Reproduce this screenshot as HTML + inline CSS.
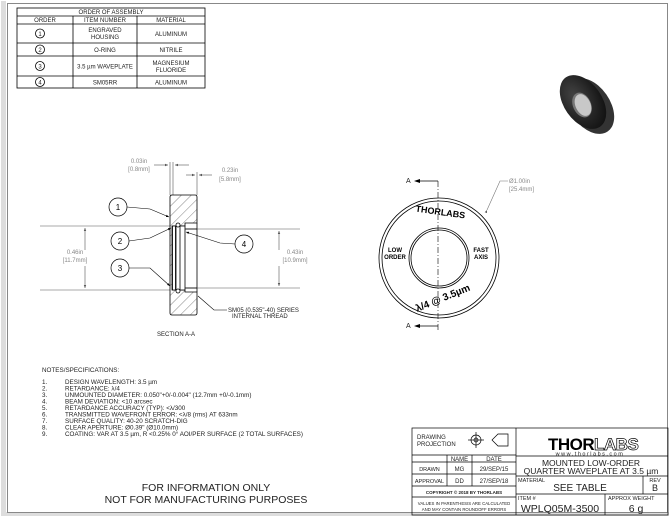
<!DOCTYPE html>
<html><head><meta charset="utf-8"><style>
html,body{margin:0;padding:0;background:#fff;}
svg{display:block;font-family:"Liberation Sans",sans-serif;}
</style></head><body>
<svg width="670" height="517" viewBox="0 0 670 517" xmlns="http://www.w3.org/2000/svg">
<defs>
<pattern id="h" width="7" height="7" patternUnits="userSpaceOnUse" patternTransform="rotate(45)">
<line x1="0" y1="0" x2="0" y2="7" stroke="#333" stroke-width="0.6"/>
</pattern>
<marker id="ar" markerWidth="6" markerHeight="6" refX="5" refY="3" orient="auto"><path d="M0,1 L5,3 L0,5z" fill="#555"/></marker>
<marker id="arb" markerWidth="6" markerHeight="6" refX="5" refY="3" orient="auto"><path d="M0,1 L5,3 L0,5z" fill="#000"/></marker>
<radialGradient id="rg" cx="0.4" cy="0.35" r="0.7"><stop offset="0" stop-color="#444"/><stop offset="1" stop-color="#111"/></radialGradient>
</defs>
<rect x="0" y="0" width="670" height="517" fill="#fff"/>
<rect x="1" y="1" width="5" height="514" fill="#ddd"/>
<rect x="1" y="512" width="668" height="4" fill="#ddd"/>
<rect x="7.5" y="3.5" width="660" height="509" fill="none" stroke="#888" stroke-width="1"/>

<!-- assembly table -->
<g stroke="#000" stroke-width="0.8" fill="none">
<rect x="17" y="8" width="188" height="80"/>
<line x1="17" y1="16" x2="205" y2="16"/><line x1="17" y1="24" x2="205" y2="24"/>
<line x1="17" y1="43" x2="205" y2="43"/><line x1="17" y1="56" x2="205" y2="56"/>
<line x1="17" y1="76" x2="205" y2="76"/>
<line x1="73" y1="16" x2="73" y2="88"/><line x1="137" y1="16" x2="137" y2="88"/>
<circle cx="40" cy="33.5" r="4.5"/><circle cx="40" cy="49.5" r="4.5"/><circle cx="40" cy="66" r="4.5"/><circle cx="40" cy="82" r="4.5"/>
</g>
<g font-size="6" text-anchor="middle" fill="#222">
<text x="111" y="14">ORDER OF ASSEMBLY</text>
<text x="45" y="22">ORDER</text><text x="105" y="22">ITEM NUMBER</text><text x="171" y="22">MATERIAL</text>
<text x="40" y="36" font-size="6">1</text><text x="40" y="52">2</text><text x="40" y="68.5">3</text><text x="40" y="84.5">4</text>
<text x="105" y="32">ENGRAVED</text><text x="105" y="39">HOUSING</text><text x="171" y="36">ALUMINUM</text>
<text x="105" y="52">O-RING</text><text x="171" y="52">NITRILE</text>
<text x="105" y="68.5">3.5 µm WAVEPLATE</text><text x="171" y="65">MAGNESIUM</text><text x="171" y="72">FLUORIDE</text>
<text x="105" y="84.5">SM05RR</text><text x="171" y="84.5">ALUMINUM</text>
</g>

<!-- 3D render -->
<g>
<ellipse cx="590" cy="106" rx="20" ry="31" fill="#333" transform="rotate(-35 590 106)"/>
<ellipse cx="583" cy="102" rx="19" ry="30" fill="url(#rg)" transform="rotate(-35 583 102)"/>
<ellipse cx="582" cy="105" rx="9" ry="13" fill="#777" transform="rotate(-25 582 105)"/>
<ellipse cx="583" cy="105" rx="7.5" ry="11.5" fill="#c8c8c8" transform="rotate(-25 583 105)"/>
</g>

<!-- section view -->
<g stroke="#555" stroke-width="0.6" fill="none">
<line x1="40" y1="226" x2="170" y2="226"/><line x1="40" y1="290" x2="170" y2="290"/>
<line x1="186" y1="229" x2="300" y2="229"/><line x1="186" y1="288" x2="300" y2="288"/>
<line x1="170" y1="195" x2="170" y2="162"/><line x1="173" y1="195" x2="173" y2="162"/>
<line x1="197" y1="195" x2="197" y2="172"/>
<line x1="154" y1="165" x2="168" y2="165" marker-end="url(#ar)"/><line x1="189" y1="165" x2="175" y2="165" marker-end="url(#ar)"/>
<line x1="186" y1="175" x2="195" y2="175" marker-end="url(#ar)"/><line x1="212" y1="175" x2="199" y2="175" marker-end="url(#ar)"/>
<line x1="85" y1="250" x2="85" y2="228" marker-end="url(#ar)"/><line x1="85" y1="266" x2="85" y2="288" marker-end="url(#ar)"/>
<line x1="279" y1="250" x2="279" y2="231" marker-end="url(#ar)"/><line x1="279" y1="266" x2="279" y2="286" marker-end="url(#ar)"/>
</g>
<g font-size="6" fill="#888" text-anchor="middle">
<text x="139" y="163">0.03in</text><text x="139" y="171">[0.8mm]</text>
<text x="230" y="172">0.23in</text><text x="230" y="181">[5.8mm]</text>
<text x="75" y="254">0.46in</text><text x="75" y="262">[11.7mm]</text>
<text x="295" y="254">0.43in</text><text x="295" y="262">[10.9mm]</text>
</g>
<g stroke="#000" stroke-width="0.8">
<path d="M172,195 L195,195 Q197,195 197,197 L197,223 L185,223 L185,226 L172,226 L172,290 L185,290 L185,292 L197,292 L197,313 Q197,315 195,315 L172,315 Q170,315 170,313 L170,197 Q170,195 172,195 Z" fill="url(#h)"/>
<rect x="172.5" y="226" width="3" height="64" fill="#fff"/>
<rect x="176" y="226" width="9" height="64" fill="#fff"/>
<line x1="180" y1="226" x2="180" y2="290"/>
<circle cx="178" cy="225" r="2" fill="#fff"/><circle cx="178" cy="291" r="2" fill="#fff"/>
<line x1="185" y1="229" x2="197" y2="229"/><line x1="185" y1="288" x2="197" y2="288"/>
<line x1="197" y1="223" x2="197" y2="292"/>
</g>
<g stroke="#000" stroke-width="0.7" fill="#fff">
<circle cx="118" cy="207" r="9"/><circle cx="120" cy="241" r="9"/><circle cx="120" cy="268" r="9"/><circle cx="244" cy="244" r="9"/>
</g>
<g stroke="#000" stroke-width="0.6" fill="none">
<polyline points="127,207 150,209 169,217" marker-end="url(#arb)"/>
<polyline points="129,241 150,238 171,228" marker-end="url(#arb)"/>
<polyline points="129,268 150,268 170,286" marker-end="url(#arb)"/>
<polyline points="235,244 220,243 186,232" marker-end="url(#arb)"/>
<polyline points="198,296 214,310 227,310"/>
</g>
<g font-size="8" text-anchor="middle" fill="#000">
<text x="118" y="210">1</text><text x="120" y="244">2</text><text x="120" y="271">3</text><text x="244" y="247">4</text>
</g>
<g font-size="6" fill="#222">
<text x="228" y="312">SM05 (0.535"-40) SERIES</text><text x="232" y="318">INTERNAL THREAD</text>
<text x="157" y="336">SECTION A-A</text>
</g>

<!-- front view -->
<g stroke="#000" fill="none" stroke-width="0.8">
<circle cx="439" cy="258" r="60"/><circle cx="439" cy="258" r="57"/>
<circle cx="439" cy="258" r="30"/><circle cx="439" cy="258" r="28"/>
<line x1="438" y1="181" x2="438" y2="330" stroke-dasharray="6,2,1,2" stroke-width="0.6"/>
<line x1="417" y1="181" x2="438" y2="181"/><line x1="417" y1="326" x2="438" y2="326"/>
</g>
<path d="M414,181 L420,179 L420,183z M414,326 L420,324 L420,328z" fill="#000"/>
<g font-size="7" fill="#222"><text x="406" y="183">A</text><text x="406" y="328">A</text></g>
<polyline points="487,210 500,181 508,181" stroke="#777" fill="none" stroke-width="0.6" marker-start="url(#ar)"/>
<g font-size="6" fill="#888"><text x="509" y="183">Ø1.00in</text><text x="509" y="191">[25.4mm]</text></g>
<g font-family="'Liberation Sans',sans-serif" font-weight="bold" fill="#000" text-anchor="middle">
<text x="440" y="215" font-size="9" transform="rotate(8 440 215)">THORLABS</text>
<text x="395" y="252" font-size="6">LOW</text><text x="395" y="259" font-size="6">ORDER</text>
<text x="481" y="252" font-size="6">FAST</text><text x="481" y="259" font-size="6">AXIS</text>
<text x="444" y="301" font-size="10" transform="rotate(-22 444 301)">λ/4 @ 3.5µm</text>
</g>

<!-- notes -->
<g font-size="6.3" fill="#222">
<text x="42" y="372">NOTES/SPECIFICATIONS:</text>
<text x="42" y="384">1.</text><text x="65" y="384">DESIGN WAVELENGTH: 3.5 µm</text>
<text x="42" y="390.5">2.</text><text x="65" y="390.5">RETARDANCE: λ/4</text>
<text x="42" y="397">3.</text><text x="65" y="397">UNMOUNTED DIAMETER: 0.050"+0/-0.004" (12.7mm +0/-0.1mm)</text>
<text x="42" y="403.5">4.</text><text x="65" y="403.5">BEAM DEVIATION: &lt;10 arcsec</text>
<text x="42" y="410">5.</text><text x="65" y="410">RETARDANCE ACCURACY (TYP): &lt;λ/300</text>
<text x="42" y="416.5">6.</text><text x="65" y="416.5">TRANSMITTED WAVEFRONT ERROR: &lt;λ/8 (rms) AT 633nm</text>
<text x="42" y="423">7.</text><text x="65" y="423">SURFACE QUALITY: 40-20 SCRATCH-DIG</text>
<text x="42" y="429.5">8.</text><text x="65" y="429.5">CLEAR APERTURE: Ø0.39" (Ø10.0mm)</text>
<text x="42" y="436">9.</text><text x="65" y="436">COATING: VAR AT 3.5 µm, R &lt;0.25% 0° AOI/PER SURFACE (2 TOTAL SURFACES)</text>
</g>
<g font-size="10.5" fill="#222" text-anchor="middle">
<text x="206" y="491">FOR INFORMATION ONLY</text>
<text x="206" y="503">NOT FOR MANUFACTURING PURPOSES</text>
</g>

<!-- title block -->
<g stroke="#000" stroke-width="0.7" fill="none">
<rect x="412" y="428" width="256" height="87"/>
<line x1="516" y1="428" x2="516" y2="515"/>
<line x1="412" y1="455" x2="516" y2="455"/>
<line x1="412" y1="462" x2="516" y2="462"/><line x1="412" y1="474" x2="516" y2="474"/>
<line x1="412" y1="486" x2="516" y2="486"/><line x1="412" y1="497" x2="516" y2="497"/>
<line x1="447" y1="455" x2="447" y2="486"/><line x1="472" y1="455" x2="472" y2="486"/>
<line x1="516" y1="456" x2="668" y2="456"/><line x1="516" y1="476" x2="668" y2="476"/>
<line x1="516" y1="494" x2="668" y2="494"/>
<line x1="643" y1="476" x2="643" y2="494"/><line x1="605" y1="494" x2="605" y2="515"/>
<circle cx="476" cy="440" r="5"/><circle cx="476" cy="440" r="2"/>
<line x1="468" y1="440" x2="484" y2="440"/><line x1="476" y1="432" x2="476" y2="448"/>
<path d="M492,440 L498,434 L508,434 L508,446 L498,446 Z"/>
</g>
<g font-size="6" fill="#222">
<text x="417" y="439">DRAWING</text><text x="417" y="446">PROJECTION</text>
<text x="459.5" y="461" text-anchor="middle">NAME</text><text x="494" y="461" text-anchor="middle">DATE</text>
<text x="429.5" y="471" text-anchor="middle" font-size="5.5">DRAWN</text><text x="459.5" y="471" text-anchor="middle">MG</text><text x="494" y="471" text-anchor="middle">29/SEP/15</text>
<text x="429.5" y="483" text-anchor="middle" font-size="5.5">APPROVAL</text><text x="459.5" y="483" text-anchor="middle">DD</text><text x="494" y="483" text-anchor="middle">27/SEP/18</text>
<text x="464" y="494" text-anchor="middle" font-size="4.5" font-weight="bold">COPYRIGHT © 2018 BY THORLABS</text>
<text x="464" y="505" text-anchor="middle" font-size="4.3">VALUES IN PARENTHESIS ARE CALCULATED</text>
<text x="464" y="511" text-anchor="middle" font-size="4.3">AND MAY CONTAIN ROUNDOFF ERRORS</text>
<text x="518" y="482" font-size="5.5">MATERIAL</text>
<text x="518" y="500" font-size="5.5">ITEM #</text>
<text x="608" y="500" font-size="5.5">APPROX WEIGHT</text>
<text x="655" y="482" font-size="5.5" text-anchor="middle">REV</text>
</g>
<text x="548" y="450" font-size="17" font-weight="bold" fill="#000" letter-spacing="-0.5">THOR</text>
<text x="594" y="450" font-size="17" font-weight="bold" fill="#fff" stroke="#000" stroke-width="0.7" letter-spacing="-0.5">LABS</text>
<text x="590" y="455.5" font-size="5.5" text-anchor="middle" fill="#222" letter-spacing="1.5">www.thorlabs.com</text>
<g font-size="8.5" fill="#222" text-anchor="middle">
<text x="591" y="466">MOUNTED LOW-ORDER</text>
<text x="591" y="474">QUARTER WAVEPLATE AT 3.5 µm</text>
<text x="580" y="491" font-size="10">SEE TABLE</text>
<text x="655" y="491" font-size="9">B</text>
<text x="560" y="512" font-size="10.5">WPLQ05M-3500</text>
<text x="636" y="512" font-size="10.5">6 g</text>
</g>
</svg>
</body></html>
